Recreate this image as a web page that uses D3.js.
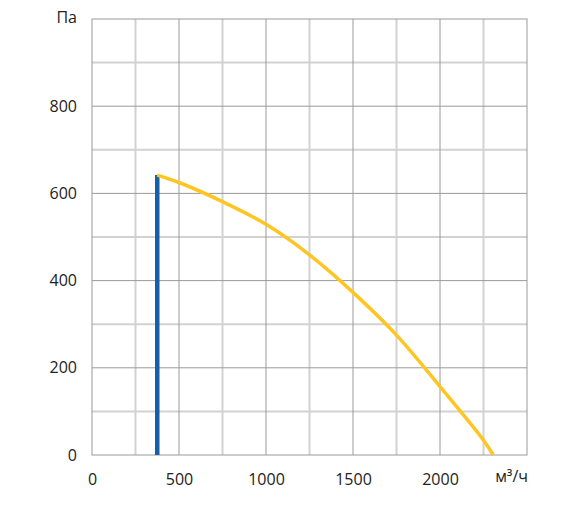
<!DOCTYPE html>
<html>
<head>
<meta charset="utf-8">
<script src="https://cdn.jsdelivr.net/npm/d3@7"></script>
<style>
  html, body { margin: 0; padding: 0; background: #fff; }
  svg text { font-family: "Open Sans", "Noto Sans", sans-serif; font-size: 16px; fill: #222; }
</style>
</head>
<body>
<svg id="chart" width="569" height="525"></svg>
<script>
// Data
const flowValues = [375, 500, 750, 1000, 1250, 1500, 1750, 2000, 2250, 2306];
const pressureValues = [642, 625, 581, 529, 459, 373, 275, 157, 34, 0];
const operatingFlow = [375, 375];
const operatingPressure = [0, 642];
const xTickLabels = [0, 500, 1000, 1500, 2000];
const yTickLabels = [0, 200, 400, 600, 800];
const xUnit = "м³/ч";
const yUnit = "Па";

const svg = d3.select("#chart");
const margin = { left: 92, right: 42, top: 19, bottom: 70 };
const W = 569, H = 525;

const x = d3.scaleLinear().domain([0, 2500]).range([margin.left, W - margin.right]);
const y = d3.scaleLinear().domain([0, 1000]).range([H - margin.bottom, margin.top]);

// Grid: minor lines (light) then major lines (darker)
const xGrid = d3.range(250, 2500, 250);
const yGrid = d3.range(100, 1000, 100);
const g = svg.append("g");
g.selectAll(".vminor").data(xGrid.filter(v => v % 500 !== 0)).enter().append("line")
  .attr("x1", d => x(d)).attr("x2", d => x(d)).attr("y1", y(0)).attr("y2", y(1000))
  .attr("stroke", "#d2d2d2").attr("stroke-width", 2);
g.selectAll(".hminor").data(yGrid.filter(v => v % 200 !== 0)).enter().append("line")
  .attr("y1", d => y(d)).attr("y2", d => y(d)).attr("x1", x(0)).attr("x2", x(2500))
  .attr("stroke", "#d2d2d2").attr("stroke-width", 2);
g.selectAll(".vmajor").data(xGrid.filter(v => v % 500 === 0)).enter().append("line")
  .attr("x1", d => x(d)).attr("x2", d => x(d)).attr("y1", y(0)).attr("y2", y(1000))
  .attr("stroke", "#9a9a9a").attr("stroke-width", 1);
g.selectAll(".hmajor").data(yGrid.filter(v => v % 200 === 0)).enter().append("line")
  .attr("y1", d => y(d)).attr("y2", d => y(d)).attr("x1", x(0)).attr("x2", x(2500))
  .attr("stroke", "#9a9a9a").attr("stroke-width", 1);
g.append("rect")
  .attr("x", x(0)).attr("y", y(1000))
  .attr("width", x(2500) - x(0)).attr("height", y(0) - y(1000))
  .attr("fill", "none").attr("stroke", "#9a9a9a").attr("stroke-width", 1);

// Axes (labels only)
const xAxis = svg.append("g").attr("transform", `translate(0,${y(0) + 16})`)
  .call(d3.axisBottom(x).tickValues(xTickLabels).tickSize(0).tickFormat(d3.format("d")));
xAxis.select(".domain").remove();
xAxis.selectAll("text").attr("dy", "0.71em").attr("fill", "#222")
  .style("font-size", "16px").style("font-family", '"Open Sans", sans-serif');
svg.append("text").attr("x", x(2500) + 1).attr("y", y(0) + 23)
  .attr("dominant-baseline", "middle").attr("text-anchor", "end").text(xUnit);

const yAxis = svg.append("g").attr("transform", `translate(${x(0) - 15},0)`)
  .call(d3.axisLeft(y).tickValues(yTickLabels).tickSize(0).tickFormat(d3.format("d")));
yAxis.select(".domain").remove();
yAxis.selectAll("text").attr("x", 0).attr("fill", "#222")
  .style("font-size", "16px").style("font-family", '"Open Sans", sans-serif');
svg.append("text").attr("x", x(0) - 15).attr("y", y(1000))
  .attr("dominant-baseline", "middle").attr("text-anchor", "end").text(yUnit);

// Operating line (blue)
const opData = operatingFlow.map((f, i) => [f, operatingPressure[i]]);
svg.append("path").datum(opData)
  .attr("d", d3.line().x(d => x(d[0])).y(d => y(d[1])))
  .attr("stroke", "#1560a6").attr("stroke-width", 4.5).attr("fill", "none");

// Fan curve (yellow)
const curveData = flowValues.map((f, i) => [f, pressureValues[i]]);
svg.append("path").datum(curveData)
  .attr("d", d3.line().curve(d3.curveCatmullRom.alpha(0.5)).x(d => x(d[0])).y(d => y(d[1])))
  .attr("stroke", "#ffc522").attr("stroke-width", 3.5).attr("fill", "none")
  .attr("stroke-linecap", "butt");
</script>
</body>
</html>
